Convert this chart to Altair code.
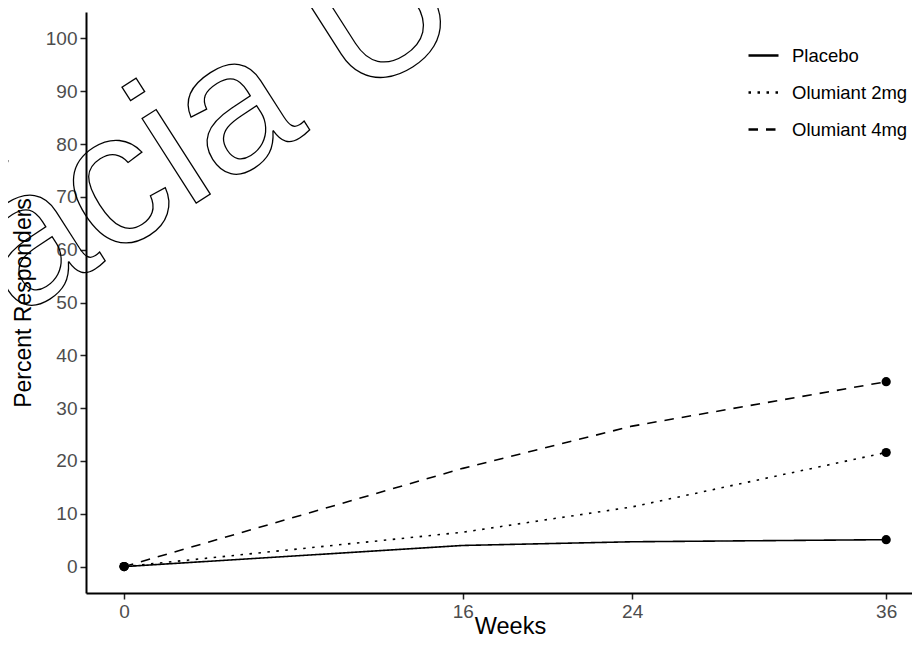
import altair as alt
import pandas as pd

# ---- data ----
weeks = [0, 16, 24, 36]
placebo = [0, 4.0, 4.7, 5.1]
olumiant_2mg = [0, 6.5, 11.3, 21.6]
olumiant_4mg = [0, 18.6, 26.6, 35.0]
groups = ["Placebo", "Olumiant 2mg", "Olumiant 4mg"]
marked_weeks = [0, 36]
x_ticks = [0, 16, 24, 36]
y_ticks = [0, 10, 20, 30, 40, 50, 60, 70, 80, 90, 100]
watermark_text = ["Farmácia U"]

rows = []
for g, vals in zip(groups, [placebo, olumiant_2mg, olumiant_4mg]):
    for w, v in zip(weeks, vals):
        rows.append({"week": w, "pct": v, "group": g})
df = pd.DataFrame(rows)
pts = df[df["week"].isin(marked_weeks)]

FONT = "Liberation Sans"
W, H = 826, 581

x_enc = alt.X(
    "week:Q",
    scale=alt.Scale(domain=[-1.8, 37.22], nice=False, zero=False),
    axis=alt.Axis(values=x_ticks, title="Weeks", titlePadding=-7,
                  titleX=424, titleAlign="center", titleFontSize=23.5),
)
y_enc = alt.Y(
    "pct:Q",
    scale=alt.Scale(domain=[-5, 105], nice=False, zero=False),
    axis=alt.Axis(values=y_ticks, title="Percent Responders", titlePadding=10),
)

lines = alt.Chart(df).mark_line(color="black", strokeWidth=1.6).encode(
    x=x_enc,
    y=y_enc,
    strokeDash=alt.StrokeDash(
        "group:N",
        scale=alt.Scale(domain=groups, range=[[1, 0], [2.5, 6.5], [9.5, 8]]),
        legend=alt.Legend(
            title=None,
            orient="none",
            legendX=661,
            legendY=27,
            symbolType="stroke",
            symbolSize=900,
            symbolStrokeWidth=2.4,
            symbolStrokeColor="black",
            labelFontSize=18.5,
            labelColor="black",
            labelFont=FONT,
            labelOffset=12,
            rowPadding=11,
        ),
    ),
)

points = alt.Chart(pts).mark_point(filled=True, color="black", size=85, opacity=1).encode(
    x="week:Q", y="pct:Q", detail="group:N"
)

wm = alt.Chart(pd.DataFrame({"t": watermark_text})).mark_text(
    font=FONT,
    fontSize=190,
    angle=327.4,
    align="left",
    baseline="alphabetic",
    fillOpacity=0,
    stroke="black",
    strokeWidth=1.3,
).encode(text="t:N", x=alt.value(-443), y=alt.value(545))

chart = (
    alt.layer(lines, points, wm)
    .properties(
        width=W,
        height=H,
        autosize=alt.AutoSizeParams(type="none"),
        padding={"left": 78, "top": 4, "right": 0, "bottom": 46},
    )
    .configure_view(stroke=None)
    .configure_axis(
        grid=False,
        domainColor="black",
        domainWidth=2,
        tickColor="#222222",
        tickWidth=1.5,
        tickSize=6,
        labelColor="#4D4D4D",
        labelFont=FONT,
        labelFontSize=19,
        labelPadding=3,
        titleFont=FONT,
        titleFontSize=23,
        titleFontWeight="normal",
        titleColor="black",
    )
)

chart.save("out.html", embed_options={"renderer": "svg", "actions": False})
